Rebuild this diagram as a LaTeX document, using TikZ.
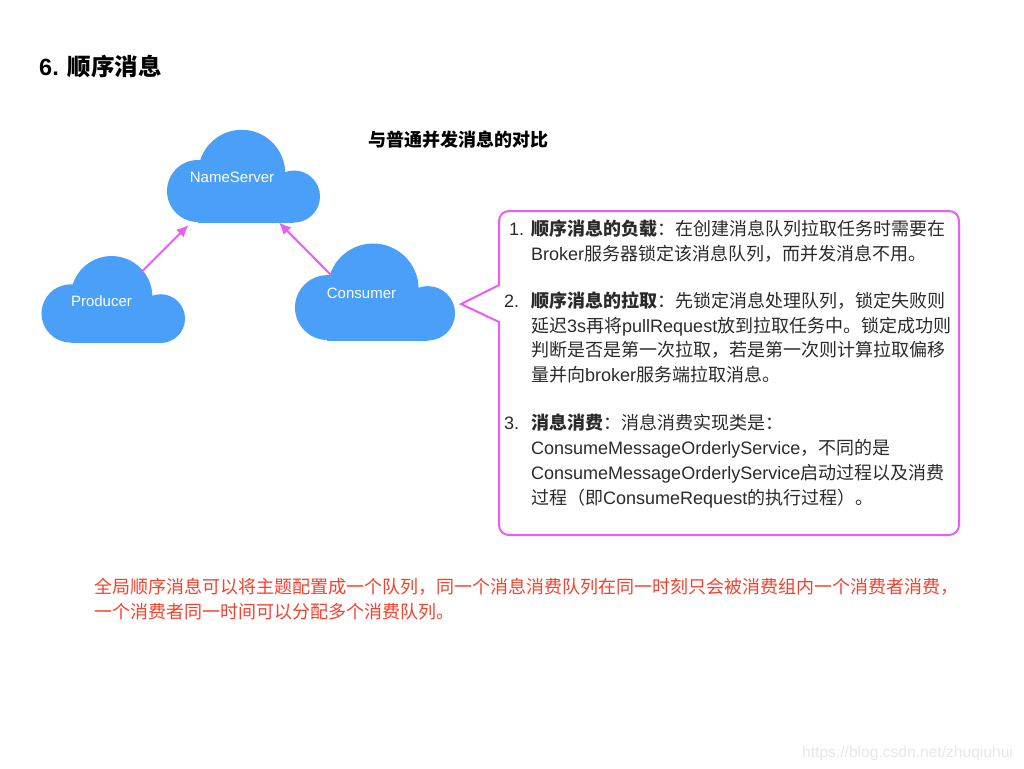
\documentclass[tikz,border=0pt]{standalone}
\usepackage{fontspec}
\setmainfont{Liberation Sans}
\newfontfamily\cjk{Noto Sans CJK SC}
\usetikzlibrary{arrows.meta}
\definecolor{cloudblue}{HTML}{4A9FF8}
\definecolor{calloutpink}{HTML}{EA5CF2}
\definecolor{notered}{HTML}{F5402C}
\definecolor{bodygray}{HTML}{2A2A2A}
\definecolor{markgray}{HTML}{E6E6E6}
\tikzset{
  cloudpic/.pic={
    \fill[cloudblue] (31,-31.5) circle (31);
    \fill[cloudblue] (74.7,-49.2) circle (43.5);
    \fill[cloudblue] (127,-26) circle (26);
    \fill[cloudblue] (31,0) rectangle (127,-30);
  },
  cloudlabel/.style={text=white, inner sep=0pt, font=\fontsize{15}{18}\selectfont},
  bodyline/.style={anchor=base west, inner sep=0pt, text=bodygray, font=\fontsize{18}{22}\selectfont},
  noteline/.style={anchor=base west, inner sep=0pt, text=notered, font=\fontsize{18}{22}\selectfont},
  linkarrow/.style={draw=calloutpink, line width=2pt, -{Latex[length=12pt,width=11pt]}},
}
\begin{document}
\begin{tikzpicture}[x=1pt, y=-1pt]
\useasboundingbox (0,0) rectangle (1024,768);

% Headings
\node[anchor=base west, inner sep=0pt, font=\fontsize{23.5}{28}\bfseries] (pageTitle) at (39,75) {6. {\cjk 顺序消息}};
\node[anchor=base west, inner sep=0pt, font=\fontsize{18}{22}\bfseries] (subTitle) at (368,146) {\cjk 与普通并发消息的对比};

% Clouds
\pic at (167,222.5) {cloudpic};
\pic[scale=0.938] at (41.5,343) {cloudpic};
\pic[scale=1.046] at (295,340.5) {cloudpic};

% Cloud labels
\node[cloudlabel] (nameServer) at (232,177.5) {NameServer};
\node[cloudlabel] (producer) at (101.5,301.5) {Producer};
\node[cloudlabel] (consumer) at (361.5,293.5) {Consumer};

% Arrow ends on the cloud outlines
\coordinate (producerOut) at (141.5,272);
\coordinate (consumerOut) at (331,275);
\coordinate (serverInA) at (188.5,225);
\coordinate (serverInB) at (279,222.5);

\draw[linkarrow] (producerOut) -- (serverInA);
\draw[linkarrow] (consumerOut) -- (serverInB);

% Callout box
\coordinate (calloutTip) at (461,304);
\draw[calloutpink, line width=2pt] (499,285) [rounded corners=10pt] -- (499,211) -- (959,211)
  -- (959,535) -- (499,535) [sharp corners] -- (499,322) -- (calloutTip) -- cycle;

% Item 1
\node[bodyline] (numA) at (509,235) {1.};
\node[bodyline] (lineA) at (531,235) {\cjk\textbf{顺序消息的负载}：在创建消息队列拉取任务时需要在};
\node[bodyline] (lineB) at (531,260) {Broker{\cjk 服务器锁定该消息队列，而并发消息不用。}};

% Item 2
\node[bodyline] (numB) at (504,307) {2.};
\node[bodyline] (lineC) at (531,307) {\cjk\textbf{顺序消息的拉取}：先锁定消息处理队列，锁定失败则};
\node[bodyline] (lineD) at (531,332) {{\cjk 延迟}3s{\cjk 再将}pullRequest{\cjk 放到拉取任务中。锁定成功则}};
\node[bodyline] (lineE) at (531,356.5) {\cjk 判断是否是第一次拉取，若是第一次则计算拉取偏移};
\node[bodyline] (lineF) at (531,381) {{\cjk 量并向}broker{\cjk 服务端拉取消息。}};

% Item 3
\node[bodyline] (numC) at (504,429) {3.};
\node[bodyline] (lineG) at (531,429) {\cjk\textbf{消息消费}：消息消费实现类是：};
\node[bodyline] (lineH) at (531,454) {ConsumeMessageOrderlyService{\cjk ，不同的是}};
\node[bodyline] (lineI) at (531,479) {ConsumeMessageOrderlyService{\cjk 启动过程以及消费}};
\node[bodyline] (lineJ) at (531,504) {{\cjk 过程（即}ConsumeRequest{\cjk 的执行过程）。}};

% Red note
\node[noteline] (noteA) at (94,593) {\cjk 全局顺序消息可以将主题配置成一个队列，同一个消息消费队列在同一时刻只会被消费组内一个消费者消费，};
\node[noteline] (noteB) at (94,618) {\cjk 一个消费者同一时间可以分配多个消费队列。};

% Watermark
\node[anchor=base west, inner sep=0pt, text=markgray, font=\fontsize{15.6}{20}\selectfont] (mark) at (802,757) {https://blog.csdn.net/zhuqiuhui};

\end{tikzpicture}
\end{document}
